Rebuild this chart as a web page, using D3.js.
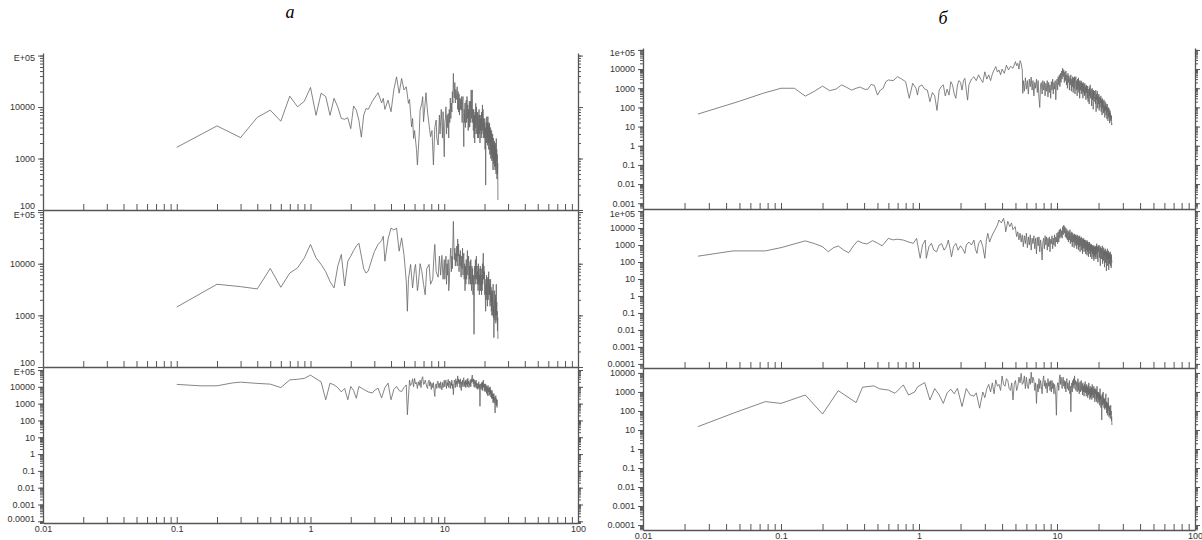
<!DOCTYPE html>
<html>
<head>
<meta charset="utf-8">
<script src="https://cdn.jsdelivr.net/npm/d3@7"></script>
<style>
  body { margin: 0; background: #fff; }
  text { font-family: "Liberation Sans", Arial, sans-serif; }
</style>
</head>
<body>
<svg id="chart" width="1202" height="540"></svg>
<script>
// ---- data ----
// low-frequency part of each spectrum as [frequency, value]
const specA1 = [[0.1,1650],[0.2,4300],[0.3,2550],[0.4,6300],[0.5,8700],[0.6,5300],[0.7,16300],[0.8,10100],[0.9,13000],[1.0,24000],[1.1,6900],[1.2,18600],[1.3,16000],[1.4,6900],[1.5,14800],[1.6,10000],[1.7,6000],[1.8,5800],[1.9,6200],[2.0,3800],[2.1,10500],[2.2,8700],[2.3,5500],[2.4,2600],[2.5,7000],[2.6,9400],[2.7,9000],[2.9,13000],[3.2,19000],[3.4,12000],[3.5,14800],[3.6,9000],[3.8,13600],[4.0,8100],[4.2,22000],[4.4,38600],[4.6,18600],[4.8,36000],[5.0,21500],[5.2,24800],[5.4,11800],[5.5,14000],[5.7,4100],[5.8,6000],[5.9,2450],[6.0,3500],[6.2,1500],[6.3,750],[6.5,3000],[6.6,8700],[6.8,12000],[6.9,15900],[7.0,5200],[7.3,19000],[7.5,8000],[7.7,4500],[7.9,2650],[8.1,3500],[8.3,750],[8.5,4000],[8.7,5600],[8.8,2500],[9.0,1830],[9.2,7000],[9.3,3000],[9.5,9000],[9.7,2500],[9.8,8100]];

const specA2 = [[0.1,1450],[0.2,4000],[0.3,3600],[0.4,3250],[0.5,8100],[0.6,3500],[0.7,6600],[0.8,8300],[0.9,13000],[1.0,23600],[1.1,13000],[1.2,9700],[1.3,7000],[1.4,4500],[1.5,3400],[1.6,9000],[1.7,15100],[1.8,3700],[1.9,11200],[2.0,14000],[2.1,18000],[2.2,22000],[2.3,25000],[2.4,14000],[2.5,8000],[2.6,6600],[2.7,7200],[2.9,13000],[3.0,17000],[3.2,23600],[3.4,28000],[3.5,34000],[3.6,11200],[3.8,30000],[4.0,49000],[4.2,45000],[4.4,49000],[4.6,17500],[4.8,31600],[5.0,15000],[5.2,4600],[5.3,1200],[5.4,5000],[5.6,9700],[5.8,3400],[6.0,8000],[6.1,9700],[6.3,3000],[6.4,4000],[6.6,10000],[6.8,7000],[7.0,4000],[7.2,2500],[7.4,8000],[7.7,9700],[7.9,4000],[8.2,5000],[8.4,16000],[8.5,23600],[8.7,7000],[9.0,5500],[9.2,14000],[9.4,6000],[9.6,14500],[9.8,5000]];

const specA3 = [[0.1,14000],[0.15,11500],[0.2,11500],[0.26,17000],[0.3,19000],[0.4,16000],[0.5,14500],[0.6,9000],[0.7,26000],[0.8,28000],[0.9,32000],[1.0,50000],[1.1,30000],[1.2,20000],[1.3,1700],[1.4,16500],[1.5,13000],[1.6,9000],[1.7,5000],[1.8,8000],[1.9,1700],[2.0,10500],[2.1,6000],[2.2,2100],[2.3,10500],[2.5,7000],[2.7,5000],[2.9,4300],[3.0,6000],[3.2,8300],[3.4,2200],[3.6,9000],[3.8,16500],[4.0,1700],[4.2,7000],[4.4,10500],[4.6,6000],[4.8,5200],[5.0,9000],[5.2,13000],[5.3,220]];

const specB1 = [[0.025,45],[0.05,210],[0.075,560],[0.1,1000],[0.125,1000],[0.15,390],[0.175,700],[0.2,1300],[0.225,750],[0.25,900],[0.275,1500],[0.3,1100],[0.325,800],[0.35,1000],[0.375,1150],[0.4,900],[0.425,870],[0.45,1600],[0.475,1400],[0.5,440],[0.525,800],[0.55,1000],[0.575,2200],[0.6,2700],[0.65,2500],[0.7,4000],[0.75,3000],[0.8,2200],[0.85,300],[0.9,1800],[0.95,1000],[0.975,440],[1.0,1200],[1.05,1500],[1.1,900],[1.15,800],[1.2,200],[1.25,600],[1.3,400],[1.35,70],[1.4,800],[1.45,1200],[1.5,1500],[1.55,400],[1.6,900],[1.65,440],[1.7,2200],[1.75,1500],[1.8,500],[1.85,300],[1.9,1500],[1.95,2500],[2.0,2000],[2.05,800],[2.1,2500],[2.15,3300],[2.2,800],[2.25,240],[2.3,1500],[2.4,3000],[2.5,4000],[2.6,2500],[2.7,5000],[2.8,3000],[2.9,2000],[3.0,7200],[3.1,3000],[3.2,5000],[3.3,2500],[3.4,5500],[3.5,9000],[3.6,13500],[3.7,7000],[3.8,9000],[3.9,5000],[4.0,10000],[4.15,6000],[4.3,16000],[4.45,9000],[4.6,14000],[4.8,11000],[5.0,24500],[5.1,15000],[5.2,20000],[5.3,10000],[5.4,27500],[5.5,20000],[5.6,9000],[5.65,540]];

const specB2 = [[0.025,220],[0.045,450],[0.077,450],[0.1,700],[0.15,1750],[0.175,1200],[0.2,800],[0.22,400],[0.24,700],[0.26,870],[0.285,500],[0.31,350],[0.335,900],[0.36,1750],[0.39,1300],[0.42,1150],[0.46,1800],[0.5,1300],[0.54,900],[0.57,1500],[0.6,2450],[0.65,2000],[0.7,2200],[0.77,1950],[0.84,1500],[0.91,1260],[0.96,2450],[1.02,166],[1.06,1000],[1.11,1950],[1.13,166],[1.18,800],[1.23,1260],[1.28,500],[1.34,400],[1.4,1000],[1.46,1200],[1.52,500],[1.58,800],[1.63,1950],[1.68,600],[1.72,200],[1.78,800],[1.85,1260],[1.92,500],[2.0,900],[2.07,600],[2.15,320],[2.2,1000],[2.3,1500],[2.4,1000],[2.5,1950],[2.56,600],[2.63,320],[2.7,1200],[2.8,1950],[2.9,800],[3.0,166],[3.08,2000],[3.15,4900],[3.25,1500],[3.35,3000],[3.45,5000],[3.55,7600],[3.7,15000],[3.8,29500],[3.95,20000],[4.1,37000],[4.2,15000],[4.25,6000],[4.4,25000],[4.55,12000],[4.68,20000],[4.8,8000],[4.98,12000],[5.1,3100]];

const specB3 = [[0.025,15],[0.045,76],[0.077,310],[0.1,250],[0.15,690],[0.2,69],[0.26,1170],[0.35,275],[0.39,1780],[0.47,2090],[0.52,1450],[0.6,1260],[0.67,850],[0.77,2340],[0.84,690],[0.93,1000],[0.98,1900],[1.1,3100],[1.2,380],[1.3,1500],[1.4,700],[1.5,250],[1.6,900],[1.7,1400],[1.8,800],[1.9,1550],[2.05,170],[2.2,1500],[2.35,700],[2.5,600],[2.6,900],[2.75,140],[2.9,1000]];

// dense high-frequency parts: [first frequency, frequency step] and the values on that grid
const bandA1Grid = [10.0, 0.1];
const bandA1 = [1080,5000,6000,10100,3000,7000,4000,7500,2500,9000,
  5000,15000,6000,12000,8000,20000,12000,45000,20000,15000,
  30000,12000,22000,14000,18000,24800,9000,20000,8000,18000,
  7000,15000,9000,14000,8700,16000,5000,12000,16000,4000,
  1700,9000,5000,12000,4000,10000,13600,5000,16000,6000,
  11000,3500,9000,4000,13000,4100,8000,13000,5000,21500,
  6000,15000,21500,5000,9000,3500,9000,2500,7000,2000,
  8000,4000,11800,3000,10000,5000,3000,8000,2500,7000,
  2500,6000,9000,3000,7000,2000,6000,3500,7000,2500,
  8000,3000,6000,11000,3500,9000,2500,6000,3000,5000,
  2500,6000,1500,4000,305,3000,5000,2000,6500,2500,
  5000,1800,6500,2000,4500,1500,5000,2000,4800,1200,
  3500,1500,4000,1000,3000,1200,3500,900,2500,1000,
  3000,700,600,2500,800,2000,900,2200,700,1800,
  600,2000,700,1500,500,2450,900,1500,400,1200,
  500,800,156];

const bandA2Grid = [10.0, 0.1];
const bandA2 = [12000,5000,9000,14000,4000,10000,6000,12000,3000,4000,
  9000,15000,20000,7000,14000,8000,25000,66000,25000,12000,
  20000,9000,16000,11000,22000,9000,30000,14000,24000,7000,
  15000,9000,18000,6000,5500,14000,8000,20000,6000,12000,
  16000,5000,10000,3000,9000,4000,12000,5000,9000,18000,
  6000,10000,14000,4000,9000,5000,11000,4000,12000,5000,
  3000,9000,4000,8000,2500,6000,2000,430,3000,9000,
  5000,12000,4000,9000,14000,5000,9000,4000,7000,3000,
  10000,4000,8000,2500,6000,4000,9000,3000,7000,8000,
  2500,6000,3000,10000,4000,12000,16000,5000,9000,5000,
  7000,2500,5000,1800,1200,4000,2000,6000,2500,5000,
  1500,2000,5500,2000,4500,7000,2500,5000,2500,4000,
  1500,3500,5000,1800,3500,1200,3000,1000,2500,1500,
  3000,1000,4000,900,1500,370,1200,2500,3000,800,
  2000,1000,2500,700,2000,4000,1000,1800,800,1200,
  500,900,350];

const bandA3Grid = [5.5, 0.1];
const bandA3 = [25000,12000,15000,30000,10000,32000,15000,18000,8000,20000,
  12000,25000,9000,30000,40000,14000,15000,25000,16500,10000,
  8000,20000,25000,11000,20000,7000,16000,9000,18000,6000,
  2700,12000,15000,8000,22000,20000,9000,16000,8000,20000,
  10000,6600,18000,9000,15000,25000,10000,20000,25000,8000,
  18000,12000,28000,9000,16000,22000,8000,18000,12000,25000,
  8000,15000,3400,12000,25000,20000,9000,30000,14000,22000,
  10000,45000,18000,30000,15000,25000,9000,30000,12000,6000,
  20000,14000,25000,10000,30000,35000,12000,20000,10000,25000,
  9000,20000,14000,28000,10000,32000,15000,22000,9000,18000,
  12000,26000,25000,10000,30000,18000,35000,50000,20000,28000,
  15000,30000,10000,22000,25000,9000,20000,12000,25000,18000,
  8000,16000,10000,7000,15000,9000,20000,8000,14000,5000,
  700,6000,15000,12000,7000,18000,9000,15000,6000,20000,
  10000,25000,9000,14000,6000,8000,15000,5000,12000,15000,
  6000,10000,4000,12000,6000,9000,3000,10000,12000,5000,
  8000,3000,4000,9000,3500,10000,4000,7000,2500,3000,
  6000,2000,5000,6000,2000,4000,1500,1100,3500,1500,
  4000,1200,2500,1500,800,280,1500,2500,3000,900,
  2000,800,1500,600,1200,1700];

const bandB1Grid = [5.7, 0.1];
const bandB1 = [2500,700,3500,900,2500,500,3000,1200,3800,800,
  2500,400,2000,1000,3000,600,2500,300,100,1500,
  2000,500,2500,800,2200,400,1800,700,2500,350,
  2000,600,1500,300,2200,800,3000,500,2000,900,
  2500,250,1500,3000,800,4000,1500,5000,1200,6000,
  2000,8000,3000,11000,4000,9000,2000,7000,2500,8000,
  1500,5000,1000,6000,2000,4500,800,3500,1500,5000,
  700,3000,1200,4000,600,3500,1000,4000,500,3000,
  4000,800,2500,400,3000,900,3500,600,2500,300,
  2000,800,2500,500,2200,700,1800,300,2000,600,
  1500,400,1800,500,1200,250,1500,600,1300,300,
  1300,200,700,900,150,1100,400,1500,300,600,
  900,120,500,1000,250,700,80,800,300,450,
  700,200,350,150,800,60,500,250,300,700,
  90,400,200,150,500,70,350,250,100,300,
  180,400,60,250,150,40,300,90,200,220,
  50,150,250,60,120,30,200,100,70,160,
  40,120,80,25,150,60,90,20,100,70,
  30,90,40,60,15,70,35,50,20,40,
  25,35,12,14];

const bandB2Grid = [5.2, 0.1];
const bandB2 = [6000,2000,5000,1500,4000,800,3500,1200,5000,700,
  3000,1000,4000,500,2500,1200,3500,600,2500,300,
  2800,900,3000,400,2000,800,130,1500,2500,600,
  3500,1000,3000,500,2500,800,3000,400,2200,1200,
  3500,600,2500,1000,4000,800,3000,1500,5000,1200,
  6000,1500,8000,2500,9000,3000,7000,2500,12000,4000,
  15000,5000,12000,3000,10000,2500,8000,2000,7000,1500,
  6000,2000,8000,1200,5000,1500,6000,800,5000,1500,
  4000,700,4500,1200,4000,900,3500,600,4000,1000,
  3500,500,3000,800,3500,400,2500,900,3000,500,
  2500,300,2200,700,2500,400,2000,600,1800,300,
  2000,500,1500,250,1800,400,1500,200,1200,500,
  1500,300,1200,200,1000,400,1100,150,900,300,
  1000,200,800,120,900,250,700,150,800,200,
  900,300,1200,150,500,800,100,900,400,600,
  1000,180,400,700,60,800,300,500,150,650,
  450,900,80,500,300,120,700,200,400,50,
  500,250,600,90,300,450,30,400,150,250,
  600,60,300,150,450,35,280,200,80,350,
  150,400,60,220,300,45,250,120,90];

const bandB3Grid = [3.0, 0.1];
const bandB3 = [500,1500,2500,1000,3000,800,4300,2000,2500,1200,
  6900,2500,2000,5000,4000,1500,1200,3000,380,2500,
  4000,1200,2000,6000,3000,9500,2500,3000,7000,1500,
  6000,2000,1500,5000,2500,11000,3000,6000,4000,1200,
  3000,250,2500,1000,5000,1500,4000,2000,800,3500,
  7000,2000,4000,1500,3000,900,5000,2000,3500,1200,
  4000,1000,4000,1500,3000,800,2500,1500,600,60,
  1500,3000,3000,1200,5000,8000,2500,6000,3000,1500,
  5000,6000,2000,4000,1500,3500,1000,4000,5000,1500,
  3000,1200,2000,4000,800,2000,90,1500,3000,1000,
  4000,2000,5000,1500,7000,2500,4000,1200,2000,3500,
  1000,3000,5000,1200,3000,800,1500,3500,1000,2500,
  4000,1200,2500,700,3000,1000,2000,600,2500,1000,
  3500,900,2000,600,2500,900,1800,500,2200,700,
  3000,800,1500,400,2000,500,1500,600,1800,400,
  2500,700,1500,500,1200,2000,500,1500,300,1200,
  800,1500,400,1200,300,2000,500,1000,250,900,
  400,1000,300,800,200,1500,400,700,150,600,
  200,34,500,800,200,600,1000,250,500,150,
  450,300,120,400,150,350,800,150,300,80,
  300,150,60,250,100,500,150,200,50,180,
  80,60,150,40,120,200,60,100,30,50,
  18];

// tick labels
const xTickValues = [0.01, 0.1, 1, 10, 100];
const xTickLabels = ['0.01', '0.1', '1', '10', '100'];
const yTickValues = [1e5, 1e4, 1e3, 100, 10, 1, 0.1, 0.01, 0.001, 0.0001];
const yLabelsA = ['E+05', '10000', '1000', '100', '10', '1', '0.1', '0.01', '0.001', '0.0001'];
const yLabelsB = ['1e+05', '10000', '1000', '100', '10', '1', '0.1', '0.01', '0.001', '0.0001'];

// join the sparse part with the dense part laid on its frequency grid
const withBand = (pairs, grid, values) =>
  pairs.concat(values.map((v, i) => [+(grid[0] + i * grid[1]).toFixed(3), v]));

const svg = d3.select('#chart');
svg.append('rect').attr('width', 1202).attr('height', 540).attr('fill', '#fff');

const axisColor = '#555';

// 1..9 x 10^k positions strictly inside a domain
const logPositions = (lo, hi) => {
  const out = [];
  for (let k = Math.floor(Math.log10(lo)); k <= Math.ceil(Math.log10(hi)); k++) {
    for (let m = 1; m <= 9; m++) {
      const v = m * Math.pow(10, k);
      if (v > lo * 1.0001 && v < hi * 0.9999) out.push(v);
    }
  }
  return out;
};

const drawPlot = cfg => {
  const x = d3.scaleLog().domain([0.01, 100]).range([cfg.x0, cfg.x1]);
  const y = d3.scaleLog().domain(cfg.yDomain).range([cfg.y1, cfg.y0]);
  const g = svg.append('g');

  // left axis: minor ticks, then majors with labels
  const left = g.append('g').attr('transform', `translate(${cfg.x0},0)`);
  left.call(d3.axisLeft(y).tickValues(logPositions(...cfg.yDomain)).tickSize(3).tickSizeOuter(0).tickFormat(''));
  const majors = yTickValues.filter(v => v >= cfg.yDomain[0] && v <= cfg.yDomain[1] * 1.0001);
  const labelOf = v => cfg.labels[yTickValues.indexOf(v)];
  const leftMajor = g.append('g').attr('transform', `translate(${cfg.x0},0)`);
  leftMajor.call(d3.axisLeft(y).tickValues(majors).tickSize(5).tickPadding(3).tickFormat(labelOf));
  leftMajor.select('.domain').remove();
  leftMajor.selectAll('.tick text')
    .attr('font-size', 9)
    .attr('fill', '#333')
    .attr('font-family', '"Liberation Sans", Arial, sans-serif')
    .attr('transform', d => {
      const py = y(d);
      const clamped = Math.max(cfg.y0 + 5, Math.min(cfg.y1 - 4, py));
      return `translate(0,${clamped - py})`;
    });

  // right axis, ticks outward
  const right = g.append('g').attr('transform', `translate(${cfg.x1},0)`);
  right.call(d3.axisRight(y).tickValues(logPositions(...cfg.yDomain)).tickSize(3).tickSizeOuter(0).tickFormat(''));
  const rightMajor = g.append('g').attr('transform', `translate(${cfg.x1},0)`);
  rightMajor.call(d3.axisRight(y).tickValues(majors).tickSize(5).tickFormat(''));
  rightMajor.select('.domain').remove();

  // bottom axis with ticks pointing up into the plot
  const bottom = g.append('g').attr('transform', `translate(0,${cfg.y1})`);
  bottom.call(d3.axisTop(x).tickValues(logPositions(0.01, 100)).tickSize(6).tickSizeOuter(0).tickFormat(''));
  if (cfg.xLabels) {
    const lab = g.append('g').attr('transform', `translate(0,${cfg.y1})`);
    lab.call(d3.axisBottom(x).tickValues(xTickValues).tickSize(0).tickPadding(3)
      .tickFormat(v => xTickLabels[xTickValues.indexOf(v)]));
    lab.select('.domain').remove();
    lab.selectAll('.tick text').attr('font-size', 9).attr('fill', '#333')
      .attr('font-family', '"Liberation Sans", Arial, sans-serif');
  }

  g.selectAll('.domain').attr('stroke', axisColor).attr('stroke-width', 1.3);
  g.selectAll('.tick line').attr('stroke', axisColor).attr('stroke-width', 1);

  // spectrum
  const line = d3.line().x(d => x(d[0])).y(d => y(d[1]));
  g.append('path')
    .datum(cfg.data)
    .attr('d', line)
    .attr('fill', 'none')
    .attr('stroke', '#666')
    .attr('stroke-width', 0.8)
    .attr('stroke-linejoin', 'round');
};

// panel а
drawPlot({ x0: 43, x1: 578, y0: 53, y1: 210, yDomain: [100, Math.pow(10, 5.05)], labels: yLabelsA,
  data: withBand(specA1, bandA1Grid, bandA1) });
drawPlot({ x0: 43, x1: 578, y0: 210, y1: 367, yDomain: [100, Math.pow(10, 5.04)], labels: yLabelsA,
  data: withBand(specA2, bandA2Grid, bandA2) });
drawPlot({ x0: 43, x1: 578, y0: 367, y1: 523, yDomain: [Math.pow(10, -4.1), Math.pow(10, 5.18)], labels: yLabelsA,
  data: withBand(specA3, bandA3Grid, bandA3), xLabels: true });

// panel б
drawPlot({ x0: 643, x1: 1195, y0: 48, y1: 209, yDomain: [Math.pow(10, -3.3), Math.pow(10, 5.1)], labels: yLabelsB,
  data: withBand(specB1, bandB1Grid, bandB1) });
drawPlot({ x0: 643, x1: 1195, y0: 209, y1: 368, yDomain: [Math.pow(10, -4.24), Math.pow(10, 5.12)], labels: yLabelsB,
  data: withBand(specB2, bandB2Grid, bandB2) });
drawPlot({ x0: 643, x1: 1195, y0: 368, y1: 530, yDomain: [Math.pow(10, -4.26), Math.pow(10, 4.26)], labels: yLabelsB,
  data: withBand(specB3, bandB3Grid, bandB3), xLabels: true });

// panel letters
svg.append('text').text('а').attr('x', 290).attr('y', 18)
  .attr('text-anchor', 'middle').attr('font-size', 18).attr('font-style', 'italic')
  .style('font-family', '"Liberation Serif", "DejaVu Serif", serif');
svg.append('text').text('б').attr('x', 943).attr('y', 24)
  .attr('text-anchor', 'middle').attr('font-size', 18).attr('font-style', 'italic')
  .style('font-family', '"Liberation Serif", "DejaVu Serif", serif');
</script>
</body>
</html>
